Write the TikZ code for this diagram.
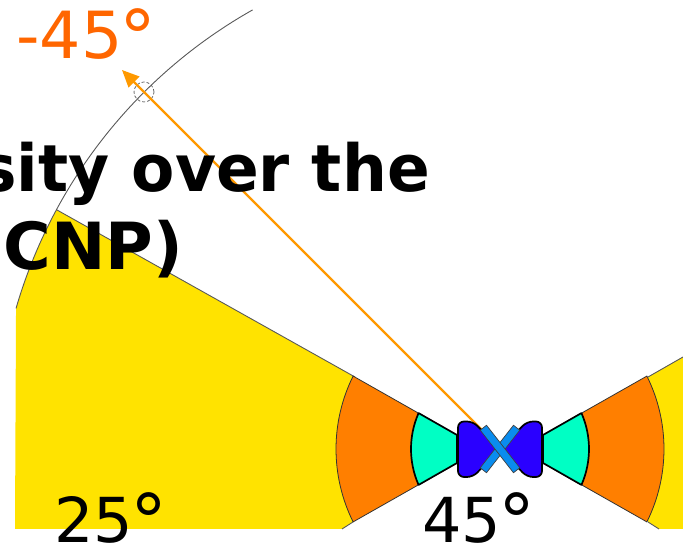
\documentclass[tikz,border=0pt]{standalone}
\usepackage{fontspec}
\setmainfont{DejaVu Sans}
\usepackage{xcolor}
\usetikzlibrary{arrows.meta}
\definecolor{sunyellow}{HTML}{FFE300}
\definecolor{deeporange}{HTML}{FF7F00}
\definecolor{mintteal}{HTML}{00FFC4}
\definecolor{coilblue}{HTML}{2A00FF}
\definecolor{crossblue}{HTML}{0A8CEE}
\definecolor{labelorange}{HTML}{FF6600}
\definecolor{rayorange}{HTML}{FF9900}
\newcommand{\bigdeg}{\kern-3pt\raisebox{-5pt}{\fontsize{74}{74}\selectfont °}}
\begin{document}
\begin{tikzpicture}[x=1pt,y=1pt,
    rimline/.style={draw=black!65,line width=0.9pt},
    sectorline/.style={draw=black!80,line width=0.8pt},
    coilline/.style={draw=black,line width=1.7pt,line join=round},
    anglelabel/.style={inner sep=0pt,anchor=base west,font=\fontsize{62}{70}\selectfont},
    titlelabel/.style={inner sep=0pt,anchor=base east,font=\fontsize{65}{78}\selectfont\bfseries}]
    \useasboundingbox (0,0) rectangle (683,548);
    \coordinate (c) at (500,99);
    % Layer 1: outer yellow sectors
    \fill[sunyellow] (c) ++(151.65:504) arc[start angle=151.65, end angle=163.8, radius=504] -- (15,19) -- (342,19) -- (353,26) -- (400,99) -- (355,171) -- cycle;
    \fill[sunyellow] (648,171) -- (683,191) -- (683,19) -- (659,19) -- (648,26) -- (640,99) -- cycle;
    % rim of the big circle and edges of the yellow parts
    \draw[rimline] (c) ++(119.4:504) arc[start angle=119.4, end angle=163.8, radius=504];
    \draw[rimline] (c) ++(151.65:504) -- (355,171);
    \draw[rimline] (342,19) -- (353,26);
    \draw[rimline] (648,171) -- (683,191);
    \draw[rimline] (648,26) -- (659,19);
    % Layer 2: orange, teal, blue on both sides
    \foreach \sgn in {-1,1} {
        \begin{scope}[shift={(c)}, xscale=\sgn]
            \filldraw[fill=deeporange,sectorline] (26.4:164) arc[start angle=26.4, end angle=-26.4, radius=164] -- (-23.8:90) -- (23.8:90) -- cycle;
            \filldraw[fill=mintteal,coilline] (23.8:89) arc[start angle=23.8, end angle=-23.8, radius=89] -- (43,-14) -- (43,14) -- cycle;
        \end{scope}
    }
    % orange ray with its marker on the rim
    \coordinate (raystart) at (483,117);
    \coordinate (raytip) at (122,478);
    \draw[draw=black!65,densely dashed,line width=0.7pt] (144,456) circle (10);
    \draw[-{Triangle[length=17pt,width=15pt]},rayorange,line width=2.2pt] (raystart) -- (raytip);
    % blue coils and the cross
    \foreach \sgn in {-1,1} {
        \begin{scope}[shift={(c)}, xscale=\sgn]
            \filldraw[fill=coilblue,coilline,rounded corners=6pt] (0,0) -- (-27,27.5) -- (-42,27.5) -- (-42,-28) -- (-27,-28) -- cycle;
        \end{scope}
    }
    \foreach \ang in {52,-52} {
        \filldraw[fill=crossblue,draw=black!75,line width=0.7pt,shift={(c)},rotate=\ang] (-27,-4) rectangle (27,4);
    }
    % Layer 3: texts
    \node[titlelabel,xscale=0.97] (titletop) at (430,356) {sity over the};
    \node[titlelabel] (titlebottom) at (183,278) {CNP)};
    \node[anglelabel] (lefttext) at (54,5) {25\bigdeg};
    \node[anglelabel] (righttext) at (422,5) {45\bigdeg};
    \node[anglelabel,labelorange,font=\fontsize{65}{70}\selectfont] (rimtext) at (16,489) {-45\bigdeg};
\end{tikzpicture}
\end{document}
